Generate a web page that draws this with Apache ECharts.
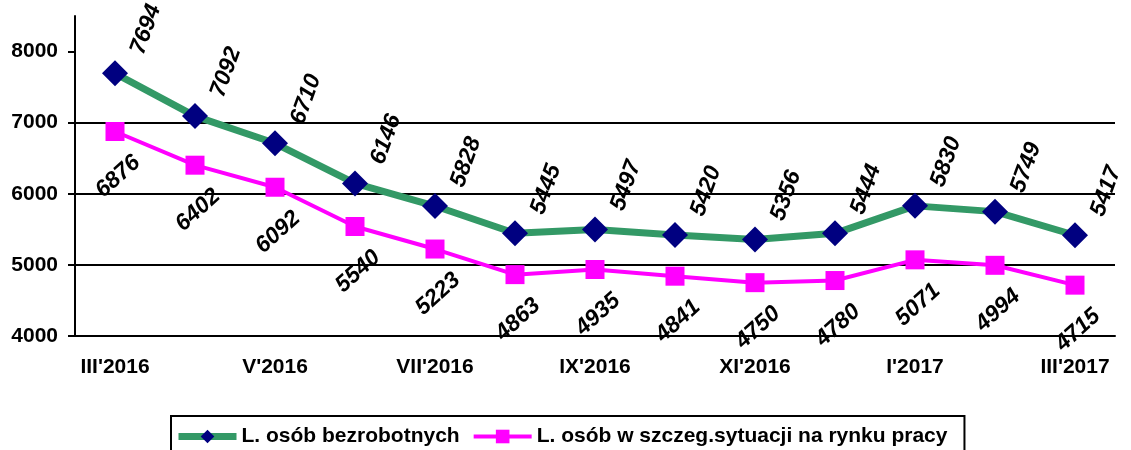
<!DOCTYPE html>
<html>
<head>
<meta charset="utf-8">
<script src="https://cdn.jsdelivr.net/npm/echarts@6/dist/echarts.min.js"></script>
<style>
    html, body { margin: 0; padding: 0; background: #fff; }
    #myChart { width: 1131px; height: 450px; }
</style>
</head>
<body>
<div id="myChart"></div>
<script>
    // dane
    var months = ["III'2016", "IV'2016", "V'2016", "VI'2016", "VII'2016", "VIII'2016", "IX'2016",
        "X'2016", "XI'2016", "XII'2016", "I'2017", "II'2017", "III'2017"];
    var bezrobotni = [7694, 7092, 6710, 6146, 5828, 5445, 5497, 5420, 5356, 5444, 5830, 5749, 5417];
    var szczegSytuacja = [6876, 6402, 6092, 5540, 5223, 4863, 4935, 4841, 4750, 4780, 5071, 4994, 4715];
    var yTicks = [4000, 5000, 6000, 7000, 8000];

    var font = 'Arial, "Liberation Sans", sans-serif';

    // offset etykiety podany na ekranie -> offset w ukladzie obroconej etykiety
    function rotOffset(dx, dy, deg) {
        var a = deg * Math.PI / 180;
        return [dx * Math.cos(a) - dy * Math.sin(a), dx * Math.sin(a) + dy * Math.cos(a)];
    }

    var myChart = echarts.init(document.getElementById('myChart'));

    myChart.setOption({
        animation: false,
        backgroundColor: '#fff',
        grid: {
            left: 75,
            right: 16,
            top: 16,
            bottom: 114
        },
        legend: {
            left: 171,
            top: 416,
            padding: [10, 17, 30, 4],
            borderColor: '#000',
            borderWidth: 2,
            itemGap: 12,
            itemWidth: 58,
            itemHeight: 17,
            lineStyle: { width: 'inherit' },
            textStyle: {
                fontFamily: font,
                fontSize: 21,
                fontWeight: 'bold',
                color: '#000'
            },
            data: ['L. osób bezrobotnych', 'L. osób w szczeg.sytuacji na rynku pracy']
        },
        xAxis: {
            type: 'category',
            data: months,
            boundaryGap: true,
            axisLine: { lineStyle: { color: '#000', width: 2 } },
            axisTick: {
                interval: 0,
                length: 7,
                lineStyle: { color: '#000', width: 2 }
            },
            axisLabel: {
                interval: 1,
                margin: 21,
                color: '#000',
                fontFamily: font,
                fontSize: 21,
                fontWeight: 'bold'
            },
            splitLine: { show: false }
        },
        yAxis: {
            type: 'value',
            min: 4000,
            max: 8500,
            interval: 1000,
            axisLine: { show: true, lineStyle: { color: '#000', width: 2 } },
            axisTick: {
                show: true,
                length: 7,
                customValues: yTicks,
                lineStyle: { color: '#000', width: 2 }
            },
            axisLabel: {
                customValues: yTicks,
                formatter: function (v) { return String(v); },
                margin: 17,
                color: '#000',
                fontFamily: font,
                fontSize: 21,
                fontWeight: 'bold'
            },
            splitLine: {
                show: true,
                showMinLine: false,
                showMaxLine: false,
                lineStyle: { color: '#000', width: 2 }
            }
        },
        series: [
            {
                name: 'L. osób bezrobotnych',
                type: 'line',
                data: bezrobotni,
                symbol: 'diamond',
                symbolSize: 26,
                lineStyle: { color: '#339966', width: 7 },
                itemStyle: { color: '#000080' },
                label: {
                    show: true,
                    position: 'inside',
                    offset: rotOffset(31, -44, 70),
                    rotate: 70,
                    align: 'center',
                    verticalAlign: 'middle',
                    color: '#000',
                    fontFamily: font,
                    fontSize: 23,
                    fontWeight: 'bold',
                    fontStyle: 'italic'
                },
                z: 2
            },
            {
                name: 'L. osób w szczeg.sytuacji na rynku pracy',
                type: 'line',
                data: szczegSytuacja,
                symbol: 'rect',
                symbolSize: 19,
                lineStyle: { color: '#FF00FF', width: 4 },
                itemStyle: { color: '#FF00FF' },
                label: {
                    show: true,
                    position: 'inside',
                    offset: rotOffset(3, 45, 42),
                    rotate: 42,
                    align: 'center',
                    verticalAlign: 'middle',
                    color: '#000',
                    fontFamily: font,
                    fontSize: 23,
                    fontWeight: 'bold',
                    fontStyle: 'italic'
                },
                z: 3
            }
        ]
    });
</script>
</body>
</html>
